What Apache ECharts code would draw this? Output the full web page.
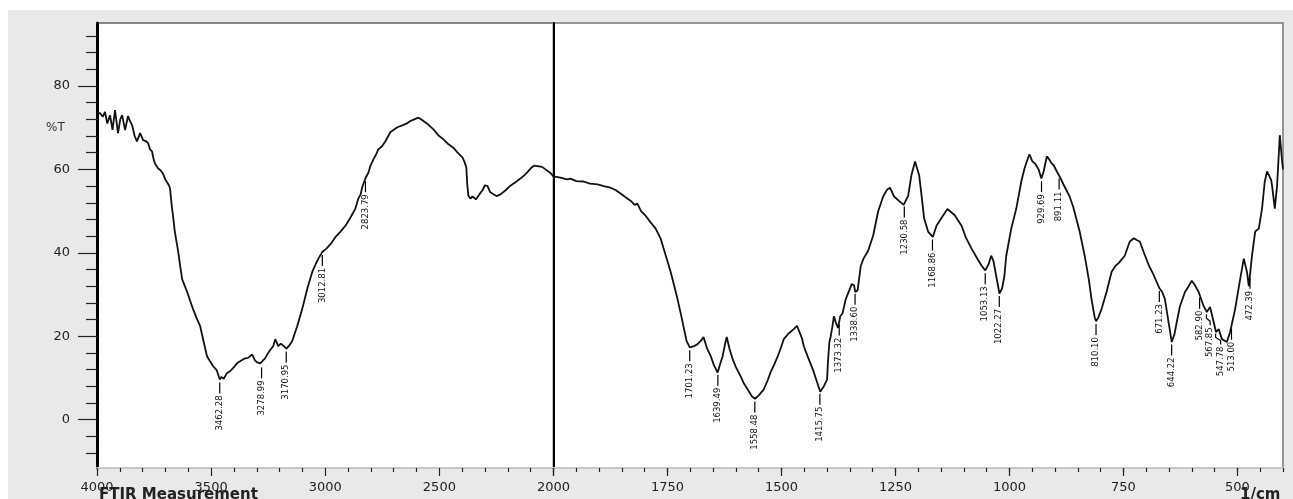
<!DOCTYPE html>
<html><head><meta charset="utf-8">
<script src="https://cdn.jsdelivr.net/npm/echarts@6/dist/echarts.min.js"></script>
<style>html,body{margin:0;padding:0;background:#fff}#c{width:1293px;height:499px}</style>
</head><body><div id="c"></div>
<script>
// ---- data (wavenumber in 1/cm, %T) ----
const leftSpectrum = [
[4000,73.5],[3987,73.5],[3975,72.6],[3965,73.8],[3955,71.0],[3943,73.0],[3932,69.5],[3921,74.2],[3908,68.7],[3898,72.0],[3890,73.0],[3877,69.4],[3864,72.8],[3855,71.5],[3846,70.6],[3835,68.0],[3825,66.7],[3811,68.7],[3798,67.0],[3786,66.8],[3776,66.3],[3768,64.8],[3759,64.3],[3752,62.5],[3746,61.4],[3740,61.8],[3732,60.2],[3722,59.8],[3711,59.0],[3700,57.5],[3693,57.8],[3685,56.2],[3680,55.4],[3672,51.0],[3667,48.9],[3660,45.5],[3654,43.4],[3645,40.5],[3636,37.0],[3627,33.7],[3615,32.0],[3605,30.6],[3592,28.5],[3579,26.5],[3565,24.5],[3548,22.4],[3532,18.5],[3518,15.2],[3505,14.0],[3491,12.8],[3475,11.8],[3462,9.6],[3455,10.2],[3445,9.8],[3430,11.2],[3417,11.6],[3400,12.6],[3385,13.6],[3373,14.0],[3355,14.6],[3338,14.8],[3320,15.6],[3308,14.2],[3298,13.7],[3285,13.5],[3278,13.2],[3265,14.6],[3250,16.0],[3240,16.8],[3228,17.6],[3219,19.3],[3206,17.6],[3195,18.2],[3185,17.8],[3170,17.0],[3160,17.6],[3145,18.8],[3123,22.4],[3101,26.5],[3079,31.3],[3057,35.4],[3040,37.5],[3030,38.6],[3013,40.2],[2995,41.0],[2978,42.0],[2955,43.8],[2934,45.0],[2910,46.6],[2890,48.4],[2868,50.6],[2855,53.0],[2845,54.0],[2838,55.7],[2823,58.0],[2811,59.2],[2803,60.7],[2789,62.4],[2775,63.8],[2768,64.8],[2752,65.5],[2737,66.7],[2715,68.9],[2700,69.5],[2684,70.1],[2660,70.6],[2640,71.1],[2627,71.6],[2610,72.0],[2592,72.4],[2580,72.0],[2570,71.6],[2550,70.8],[2526,69.6],[2505,68.2],[2482,67.2],[2460,66.0],[2439,65.2],[2420,64.0],[2399,62.9],[2390,61.8],[2382,60.5],[2378,56.5],[2373,53.7],[2364,53.0],[2355,53.5],[2340,52.8],[2325,54.0],[2311,55.0],[2300,56.2],[2289,56.0],[2278,54.6],[2268,54.2],[2250,53.6],[2232,54.0],[2210,55.0],[2189,56.1],[2165,57.0],[2145,57.8],[2120,59.0],[2101,60.2],[2085,60.9],[2070,60.8],[2050,60.6],[2035,60.0],[2015,59.2],[2000,58.3]
];
const rightSpectrum = [
[2000,58.3],[1985,58.0],[1970,57.6],[1963,57.8],[1950,57.2],[1934,57.1],[1920,56.6],[1903,56.4],[1890,56.0],[1875,55.6],[1863,55.0],[1853,54.2],[1842,53.3],[1831,52.5],[1822,51.5],[1816,51.8],[1808,50.0],[1798,48.9],[1787,47.3],[1776,45.8],[1765,43.4],[1759,41.2],[1750,38.0],[1743,35.4],[1735,32.0],[1728,28.9],[1720,25.0],[1715,22.4],[1708,18.8],[1701,17.3],[1692,17.6],[1684,18.1],[1676,19.0],[1671,19.8],[1663,17.0],[1655,15.2],[1648,13.0],[1640,11.3],[1634,13.5],[1629,15.2],[1624,18.0],[1620,19.8],[1614,17.0],[1607,14.5],[1600,12.6],[1590,10.5],[1582,8.6],[1574,7.2],[1565,5.6],[1558,5.0],[1550,5.8],[1539,7.2],[1530,9.5],[1524,11.3],[1516,13.2],[1508,15.2],[1500,17.6],[1495,19.3],[1485,20.6],[1473,21.7],[1466,22.5],[1462,22.3],[1455,19.5],[1451,17.6],[1442,15.0],[1431,12.0],[1422,9.0],[1415,6.7],[1408,7.8],[1400,9.6],[1398,13.9],[1395,18.5],[1392,20.0],[1388,22.5],[1385,24.8],[1380,23.0],[1376,22.0],[1371,24.8],[1366,25.5],[1359,28.9],[1352,30.8],[1346,32.5],[1341,32.2],[1338,30.6],[1333,31.0],[1326,36.9],[1320,38.6],[1310,40.5],[1299,44.1],[1288,49.9],[1277,53.5],[1268,55.2],[1262,55.6],[1253,53.5],[1243,52.5],[1232,51.5],[1222,53.7],[1215,58.6],[1207,61.9],[1203,61.5],[1198,58.6],[1192,53.0],[1187,48.2],[1178,45.0],[1168,43.8],[1160,46.5],[1148,48.5],[1136,50.5],[1132,50.8],[1120,49.0],[1105,46.5],[1095,43.5],[1083,41.0],[1070,38.5],[1061,36.9],[1053,35.8],[1046,37.2],[1040,39.3],[1035,38.0],[1030,35.0],[1024,31.5],[1022,30.2],[1016,31.5],[1011,34.5],[1007,39.3],[996,45.8],[985,50.6],[974,57.1],[967,60.2],[960,62.5],[956,63.6],[950,62.0],[944,61.4],[936,60.0],[930,57.8],[925,59.5],[918,63.1],[914,62.6],[908,61.5],[903,61.0],[896,59.5],[890,58.3],[882,56.5],[875,55.0],[868,53.5],[860,51.0],[857,50.6],[846,45.1],[835,39.3],[826,33.7],[820,28.9],[813,24.5],[810,23.6],[805,24.5],[798,26.5],[787,30.6],[776,35.4],[768,36.8],[760,37.6],[747,39.3],[740,41.5],[736,42.7],[727,43.5],[720,43.0],[714,42.7],[705,40.0],[694,36.9],[685,35.0],[677,33.0],[671,31.5],[665,30.6],[659,28.9],[651,23.4],[644,18.6],[638,20.5],[633,23.4],[626,27.2],[615,30.6],[607,32.0],[600,33.3],[593,32.2],[585,30.6],[574,27.2],[567,25.8],[560,27.0],[552,23.4],[547,21.0],[541,21.7],[534,19.3],[523,18.6],[516,21.0],[505,26.5],[494,33.7],[486,38.6],[479,35.4],[475,32.0],[468,39.3],[461,45.1],[453,45.8],[446,50.6],[440,57.1],[435,59.5],[431,59.8],[426,57.5],[424,56.1],[418,50.6],[413,56.1],[407,68.2],[402,62.0],[400,60.0]
];
const leftPeakLabels = ['3462.28','3278.99','3170.95','3012.81','2823.79'];
const rightPeakLabels = ['1701.23','1639.49','1558.48','1415.75','1373.32','1338.60','1230.58','1168.86','1053.13','1022.27','929.69','891.11','810.10','671.23','644.22','582.90','567.85','547.78','513.00','472.39'];
const yTickLabels = [0, 20, 40, 60, 80];
const yMinorTicks = [-8,-4,4,8,12,16,24,28,32,36,44,48,52,56,64,68,72,76,84,88,92];
const rightXLabels = [1750, 1500, 1250, 1000, 750, 500];
const rightXMajorTicks = [2000, 1750, 1500, 1250, 1000, 750, 500];
const rightXMinorTicks = [];
for (let v = 400; v <= 2000; v += 50) rightXMinorTicks.push(v);

const Y_MIN = -11.6, Y_MAX = 95.1;
const FONT = 'DejaVu Sans';

// lookup of %T on the traced curve at a wavenumber
const allSpec = leftSpectrum.concat(rightSpectrum.slice(1));
function valueAt(wn) {
  for (let i = 0; i < allSpec.length - 1; i++) {
    const a = allSpec[i], b = allSpec[i + 1];
    if (wn <= a[0] && wn >= b[0]) {
      const t = (a[0] - wn) / (a[0] - b[0]);
      return a[1] + t * (b[1] - a[1]);
    }
  }
  return allSpec[allSpec.length - 1][1];
}
function peakData(list) { return list.map(s => [Number(s), valueAt(Number(s)), s]); }

function peakRender(list) {
  return function (params, api) {
    const i = params.dataIndex;
    const pts = list.map(s => api.coord([Number(s), valueAt(Number(s))]));
    const lx = [];
    for (let k = 0; k < pts.length; k++) {
      let x = pts[k][0];
      if (k > 0 && x < lx[k - 1] + 10.5) x = lx[k - 1] + 10.5;
      lx.push(x);
    }
    const px = pts[i][0], py = pts[i][1], tx = lx[i];
    const children = [];
    if (Math.abs(tx - px) < 0.5) {
      children.push({ type: 'line', shape: { x1: px, y1: py + 3, x2: px, y2: py + 14 },
        style: { stroke: '#000', lineWidth: 1.2 } });
    } else {
      children.push({ type: 'polyline', shape: { points: [[px, py + 3], [px, py + 7], [tx, py + 10], [tx, py + 14]] },
        style: { stroke: '#000', lineWidth: 1.2, fill: null } });
    }
    children.push({ type: 'text', x: tx, y: py + 16, rotation: Math.PI / 2,
      style: { text: list[i], align: 'right', verticalAlign: 'middle', fontSize: 8.5, fontFamily: FONT, fill: '#111' } });
    return { type: 'group', children };
  };
}

const chart = echarts.init(document.getElementById('c'), null, { renderer: 'canvas' });
const tickStyle = { color: '#222', width: 1.2 };
const plain = v => String(v);
chart.setOption({
  animation: false,
  backgroundColor: '#ffffff',
  graphic: [
    { type: 'rect', left: 8, top: 10, shape: { width: 1285, height: 489 }, style: { fill: '#e9e9e9' }, z: -10, silent: true },
    { type: 'text', left: 46, top: 122, style: { text: '%T', fontSize: 12, fontFamily: FONT, fill: '#333' } },
    { type: 'text', left: 99, top: 488, style: { text: 'FTIR Measurement', fontSize: 15, fontWeight: 'bold', fontFamily: FONT, fill: '#222' } },
    { type: 'text', left: 1240, top: 488, style: { text: '1/cm', fontSize: 15, fontWeight: 'bold', fontFamily: FONT, fill: '#222' } }
  ],
  grid: [
    { left: 97, top: 23, width: 456.5, height: 445, show: true, backgroundColor: '#fff', borderColor: '#666', borderWidth: 1.5, containLabel: false },
    { left: 553.5, top: 23, width: 729.5, height: 445, show: true, backgroundColor: '#fff', borderColor: '#777', borderWidth: 1.5, containLabel: false }
  ],
  xAxis: [
    { gridIndex: 0, type: 'value', min: 2000, max: 4000, interval: 500, inverse: true, position: 'bottom',
      axisLine: { show: true, onZero: false, lineStyle: { color: '#c8c8c8', width: 2 } },
      axisTick: { show: true, length: 8, lineStyle: tickStyle },
      minorTick: { show: true, splitNumber: 5, length: 4, lineStyle: tickStyle },
      axisLabel: { fontSize: 13, color: '#222', margin: 13, fontFamily: FONT, showMinLabel: true, showMaxLabel: true, formatter: plain },
      splitLine: { show: false }, minorSplitLine: { show: false } },
    { gridIndex: 1, type: 'value', min: 400, max: 2000, inverse: true, position: 'bottom',
      axisLine: { show: true, onZero: false, lineStyle: { color: '#c8c8c8', width: 2 } },
      axisTick: { show: true, length: 4, customValues: rightXMinorTicks, lineStyle: tickStyle },
      axisLabel: { fontSize: 13, color: '#222', margin: 13, fontFamily: FONT, customValues: rightXLabels, formatter: plain },
      splitLine: { show: false } },
    { gridIndex: 1, type: 'value', min: 400, max: 2000, inverse: true, position: 'top', offset: -445,
      axisLine: { show: false },
      axisTick: { show: true, inside: true, length: 8, customValues: rightXMajorTicks, lineStyle: tickStyle },
      axisLabel: { show: false }, splitLine: { show: false } }
  ],
  yAxis: [
    { gridIndex: 0, type: 'value', min: Y_MIN, max: Y_MAX, position: 'left',
      axisLine: { show: true, onZero: false, lineStyle: { color: '#000', width: 3 } },
      axisTick: { show: true, length: 19, customValues: yTickLabels, lineStyle: tickStyle },
      axisLabel: { fontSize: 13, color: '#222', margin: 27, fontFamily: FONT, customValues: yTickLabels, formatter: plain },
      splitLine: { show: false } },
    { gridIndex: 0, type: 'value', min: Y_MIN, max: Y_MAX, position: 'right', offset: -456.5,
      axisLine: { show: false },
      axisTick: { show: true, inside: true, length: 11, customValues: yMinorTicks, lineStyle: tickStyle },
      axisLabel: { show: false }, splitLine: { show: false } },
    { gridIndex: 1, type: 'value', min: Y_MIN, max: Y_MAX, position: 'left',
      axisLine: { show: true, onZero: false, lineStyle: { color: '#000', width: 2 } },
      axisTick: { show: false }, axisLabel: { show: false }, splitLine: { show: false } }
  ],
  series: [
    { type: 'line', xAxisIndex: 0, yAxisIndex: 0, data: leftSpectrum, showSymbol: false, symbol: 'none',
      lineStyle: { color: '#111', width: 1.8 }, z: 3 },
    { type: 'line', xAxisIndex: 1, yAxisIndex: 2, data: rightSpectrum, showSymbol: false, symbol: 'none',
      lineStyle: { color: '#111', width: 1.8 }, z: 3 },
    { type: 'custom', xAxisIndex: 0, yAxisIndex: 0, data: peakData(leftPeakLabels), encode: { x: 0, y: 1 },
      renderItem: peakRender(leftPeakLabels), clip: false, z: 4 },
    { type: 'custom', xAxisIndex: 1, yAxisIndex: 2, data: peakData(rightPeakLabels), encode: { x: 0, y: 1 },
      renderItem: peakRender(rightPeakLabels), clip: false, z: 4 }
  ]
});
</script>
</body></html>
